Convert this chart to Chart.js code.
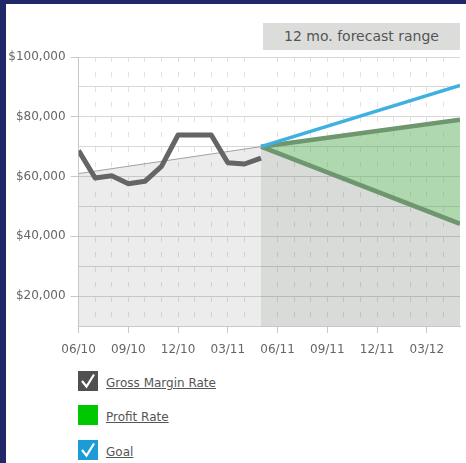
<!DOCTYPE html>
<html><head><meta charset="utf-8">
<script src="https://cdn.jsdelivr.net/npm/chart.js@4"></script>
<style>
html,body{margin:0;padding:0;width:466px;height:463px;overflow:hidden;background:#21286a;}
#panel{position:absolute;left:6px;top:4px;width:460px;height:459px;background:#fff;overflow:hidden;}
#wrap{position:absolute;left:0;top:0;width:464px;height:360px;}
#badge{position:absolute;left:257px;top:19px;width:197px;height:27px;background:#dcdddb;color:#555;font:14px "DejaVu Sans";line-height:27px;text-align:center;}
.leg{position:absolute;left:72px;width:200px;height:20px;font:12px "DejaVu Sans";color:#555;}
.box{position:absolute;left:0;top:0;width:20px;height:20px;}
.lbl{position:absolute;left:28px;top:2px;line-height:20px;text-decoration:underline;white-space:nowrap;}
</style>
</head><body>
<div id="panel">
  <div id="wrap"><canvas id="c" width="464" height="360"></canvas></div>
  <div id="badge">12 mo. forecast range</div>
  <div class="leg" style="top:367px"><svg class="box" viewBox="0 0 20 20"><rect width="20" height="20" fill="#505050"/><polyline points="4,10 8.5,15.5 16,3.5" fill="none" stroke="#fff" stroke-width="2.2"/></svg><span class="lbl">Gross Margin Rate</span></div>
  <div class="leg" style="top:401px"><svg class="box" viewBox="0 0 20 20"><rect width="20" height="20" fill="#00c800"/></svg><span class="lbl">Profit Rate</span></div>
  <div class="leg" style="top:436px"><svg class="box" viewBox="0 0 20 20"><rect width="20" height="20" fill="#1c9bd6"/><polyline points="4,10 8.5,15.5 16,3.5" fill="none" stroke="#fff" stroke-width="2.2"/></svg><span class="lbl">Goal</span></div>
</div>
<script>
const monthLabels = ['06/10','07/10','08/10','09/10','10/10','11/10','12/10','01/11','02/11','03/11','04/11','05/11',
                     '06/11','07/11','08/11','09/11','10/11','11/11','12/11','01/12','02/12','03/12','04/12','05/12'];
const grossMarginMonths = ['06/10','07/10','08/10','09/10','10/10','11/10','12/10','01/11','02/11','03/11','04/11','05/11'];
const grossMargin = [68700, 59500, 60300, 57600, 58400, 63400, 73900, 73900, 73900, 64600, 64200, 66200];
const trendMonths = ['06/10','05/11'];
const trendValues = [61000, 70000];
const forecastMonths = ['05/11','05/12'];
const goal = [70000, 90500];
const profitHigh = [70000, 79000];
const profitLow = [70000, 44200];

const pts = (ms, vs) => ms.map((m, i) => ({x: monthLabels.indexOf(m), y: vs[i]}));

Chart.defaults.font.family = 'DejaVu Sans';
Chart.defaults.font.size = 12;
Chart.defaults.color = '#666';

new Chart(document.getElementById('c'), {
  type: 'line',
  data: {
    datasets: [
      {label: 'Gross Margin Rate', data: pts(grossMarginMonths, grossMargin), borderColor: '#656565', borderWidth: 5, pointRadius: 0, fill: false, tension: 0, borderJoinStyle: 'round'},
      {label: 'Goal', data: pts(forecastMonths, goal), borderColor: '#3fb1e0', borderWidth: 3.5, pointRadius: 0, fill: false},
      {label: 'Profit High', data: pts(forecastMonths, profitHigh), borderColor: '#6e966f', borderWidth: 4.5, pointRadius: 0, fill: 3, backgroundColor: 'rgba(79,168,75,0.45)'},
      {label: 'Profit Low', data: pts(forecastMonths, profitLow), borderColor: '#6e966f', borderWidth: 4.5, pointRadius: 0, fill: 'start', backgroundColor: 'rgba(20,30,10,0.16)'},
      {label: 'Trend', data: pts(trendMonths, trendValues), borderColor: '#a0a0a0', borderWidth: 1, pointRadius: 0, fill: 'start', backgroundColor: 'rgba(0,0,0,0.075)'}
    ]
  },
  options: {
    responsive: false,
    animation: false,
    layout: {padding: {top: 53, right: 10, left: 0, bottom: 0}},
    plugins: {legend: {display: false}, tooltip: {enabled: false}, filler: {drawTime: 'beforeDatasetsDraw'}},
    scales: {
      x: {
        type: 'linear', min: 0, max: 23,
        afterFit: s => { s.height = 38; },
        ticks: {stepSize: 1, autoSkip: false, maxRotation: 0, padding: 10, color: '#666',
          callback: v => (v % 3 === 0 ? monthLabels[v] : '')},
        grid: {
          color: c => (c.tick && (c.tick.value === 0 || c.tick.value === 11 || c.tick.value === 23) ? 'rgba(0,0,0,0)' : '#e2e2e2'),
          tickColor: c => (c.tick && c.tick.value % 3 === 0 ? '#c8c8c8' : 'rgba(0,0,0,0)'),
          tickLength: 7, lineWidth: 1
        },
        border: {color: '#c8c8c8', width: 1, dash: [5, 10]}
      },
      y: {
        min: 10000, max: 100000,
        afterFit: s => { s.width = 72.58; },
        ticks: {stepSize: 10000, autoSkip: false, padding: 5, color: '#666',
          callback: v => (v % 20000 === 0 ? '$' + v.toLocaleString('en-US') : '')},
        grid: {
          color: '#d8d8d8',
          tickColor: c => (c.tick && c.tick.value % 20000 === 0 ? '#c8c8c8' : 'rgba(0,0,0,0)'),
          tickLength: 8
        },
        border: {color: '#c8c8c8', width: 1}
      }
    }
  }
});
</script>
</body></html>
